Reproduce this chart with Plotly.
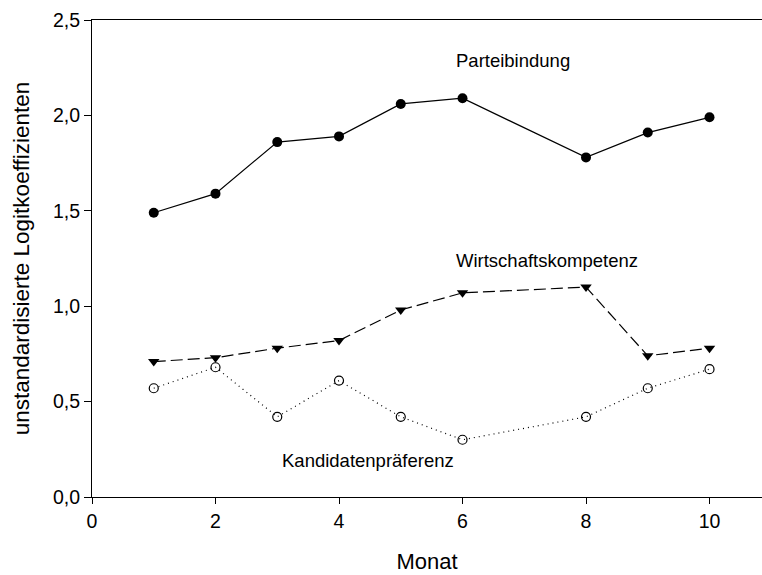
import plotly.graph_objects as go

monat = [1, 2, 3, 4, 5, 6, 8, 9, 10]
parteibindung = [1.49, 1.59, 1.86, 1.89, 2.06, 2.09, 1.78, 1.91, 1.99]
wirtschaftskompetenz = [0.71, 0.73, 0.78, 0.82, 0.98, 1.07, 1.10, 0.74, 0.78]
kandidatenpraeferenz = [0.57, 0.68, 0.42, 0.61, 0.42, 0.30, 0.42, 0.57, 0.67]

x_ticks = [0, 2, 4, 6, 8, 10]
y_ticks = [0.0, 0.5, 1.0, 1.5, 2.0, 2.5]

FONT = "Liberation Sans, Arial, sans-serif"

fig = go.Figure()
fig.add_trace(go.Scatter(
    x=monat, y=parteibindung, mode="lines+markers", name="Parteibindung",
    line=dict(color="black", width=1.2),
    marker=dict(symbol="circle", size=10, color="black"),
))
fig.add_trace(go.Scatter(
    x=monat, y=wirtschaftskompetenz, mode="lines+markers", name="Wirtschaftskompetenz",
    line=dict(color="black", width=1.2, dash="12px,5px"),
    marker=dict(symbol="triangle-down", size=10, color="black"),
))
fig.add_trace(go.Scatter(
    x=monat, y=kandidatenpraeferenz, mode="lines+markers", name="Kandidatenpräferenz",
    line=dict(color="black", width=1.2, dash="1px,4px"),
    marker=dict(symbol="circle-open", size=9, color="black", line=dict(width=1.2, color="black")),
))

annots = [
    ("Parteibindung", 6.82, 2.286),
    ("Wirtschaftskompetenz", 7.375, 1.238),
    ("Kandidatenpräferenz", 4.47, 0.192),
]
for txt, ax, ay in annots:
    fig.add_annotation(x=ax, y=ay, text=txt, showarrow=False,
                       xanchor="center", yanchor="middle",
                       font=dict(family=FONT, size=18.5, color="black"))

fig.update_layout(
    width=762, height=575,
    margin=dict(l=92, r=0, t=20, b=78),
    paper_bgcolor="white", plot_bgcolor="white",
    showlegend=False,
    separators=",.",
    font=dict(family=FONT, size=20, color="black"),
    xaxis=dict(
        range=[0, 10.85], tickvals=x_ticks, showgrid=False, zeroline=False,
        showline=True, linecolor="black", linewidth=1.2, mirror=True,
        ticks="outside", ticklen=6, tickcolor="black", tickwidth=1.2,
        tickfont=dict(family=FONT, size=19.5),
        title=dict(text="Monat", font=dict(family=FONT, size=22), standoff=23),
    ),
    yaxis=dict(
        range=[0, 2.5], tickvals=y_ticks, tickformat=".1f", showgrid=False, zeroline=False,
        showline=True, linecolor="black", linewidth=1.2,
        ticks="outside", ticklen=7, tickcolor="black", tickwidth=1.2,
        tickfont=dict(family=FONT, size=19.5),
        title=dict(text="unstandardisierte Logitkoeffizienten", font=dict(family=FONT, size=22.5), standoff=17),
    ),
)

fig.write_html("out.html", config={"displayModeBar": False},
               post_script="document.body.style.margin='0';document.body.style.overflow='hidden';")
